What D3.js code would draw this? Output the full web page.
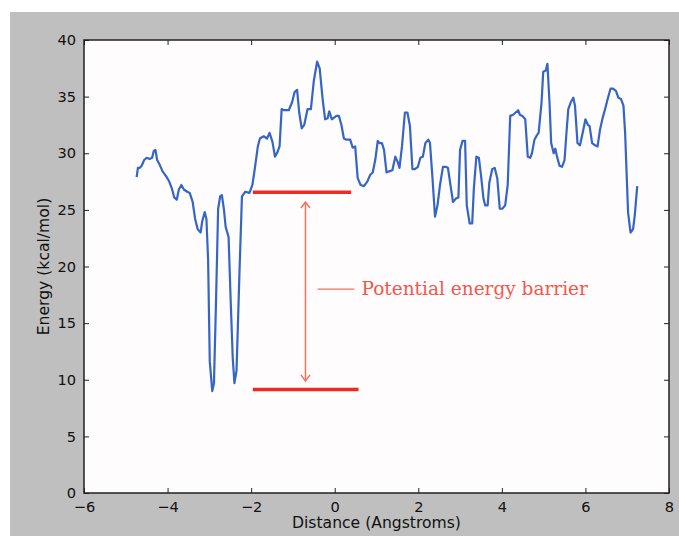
<!DOCTYPE html>
<html>
<head>
<meta charset="utf-8">
<script src="https://cdn.jsdelivr.net/npm/d3@7"></script>
<style>
  body { margin: 0; background: #fff; }
  svg { display: block; }
</style>
</head>
<body>
<div id="chart"></div>
<script>
// distance (Angstroms) and energy (kcal/mol)
const distance = [
  -4.74, -4.71, -4.67, -4.62, -4.56, -4.50, -4.43, -4.37, -4.33, -4.29,
  -4.25, -4.19, -4.12, -4.04, -3.96, -3.89, -3.84, -3.78, -3.73, -3.67,
  -3.61, -3.53, -3.47, -3.40, -3.34, -3.28, -3.21, -3.17, -3.11, -3.07,
  -3.03, -2.99, -2.93, -2.89, -2.84, -2.79, -2.74, -2.70, -2.65, -2.61,
  -2.54, -2.49, -2.44, -2.40, -2.35, -2.28, -2.22, -2.14, -2.04, -1.97,
  -1.91, -1.84, -1.79, -1.70, -1.62, -1.56, -1.49, -1.43, -1.37, -1.32,
  -1.27, -1.21, -1.10, -1.02, -0.96, -0.90, -0.85, -0.79, -0.73, -0.65,
  -0.57, -0.50, -0.42, -0.36, -0.29, -0.23, -0.17, -0.13, -0.07, 0.04,
  0.10, 0.16, 0.22, 0.28, 0.37, 0.43, 0.49, 0.55, 0.62, 0.70,
  0.78, 0.85, 0.91, 0.97, 1.03, 1.07, 1.13, 1.18, 1.24, 1.30,
  1.38, 1.45, 1.51, 1.55, 1.61, 1.68, 1.74, 1.80, 1.86, 1.92,
  1.99, 2.05, 2.11, 2.17, 2.24, 2.28, 2.34, 2.40, 2.46, 2.52,
  2.59, 2.67, 2.71, 2.77, 2.83, 2.90, 2.96, 3.00, 3.06, 3.12,
  3.16, 3.23, 3.29, 3.33, 3.39, 3.45, 3.50, 3.56, 3.60, 3.66,
  3.70, 3.77, 3.83, 3.89, 3.95, 4.01, 4.08, 4.14, 4.20, 4.27,
  4.33, 4.39, 4.43, 4.49, 4.56, 4.62, 4.68, 4.72, 4.78, 4.84,
  4.88, 4.95, 4.99, 5.05, 5.09, 5.14, 5.18, 5.24, 5.28, 5.32,
  5.38, 5.44, 5.50, 5.54, 5.59, 5.65, 5.71, 5.75, 5.81, 5.87,
  5.94, 6.00, 6.06, 6.10, 6.16, 6.23, 6.29, 6.35, 6.41, 6.47,
  6.54, 6.60, 6.66, 6.73, 6.79, 6.85, 6.91, 6.95, 7.02, 7.08,
  7.14, 7.18, 7.24
];
const energy = [
  27.9, 28.7, 28.7, 28.9, 29.4, 29.6, 29.5, 29.6, 30.2, 30.3,
  29.4, 29.0, 28.4, 28.0, 27.5, 26.8, 26.1, 25.9, 26.8, 27.2,
  26.8, 26.6, 26.5, 25.7, 24.2, 23.3, 23.0, 24.0, 24.8, 24.2,
  20.6, 11.6, 9.0, 9.7, 17.0, 25.1, 26.2, 26.3, 25.0, 23.5,
  22.6, 17.0, 11.9, 9.7, 10.8, 19.4, 26.2, 26.6, 26.5, 27.2,
  28.7, 30.6, 31.3, 31.5, 31.3, 31.8, 31.0, 29.7, 30.1, 30.6,
  33.9, 33.8, 33.8, 34.5, 35.4, 35.6, 33.6, 32.2, 32.5, 33.9,
  33.9, 36.4, 38.1, 37.5, 34.8, 33.0, 33.1, 33.7, 33.0, 33.3,
  33.3, 32.5, 31.3, 31.2, 31.2, 30.5, 30.6, 27.8, 27.2, 27.1,
  27.5, 28.1, 28.3, 29.4, 31.1, 30.9, 30.9, 30.3, 28.3, 28.4,
  28.5, 29.7, 29.2, 28.7, 30.6, 33.6, 33.6, 32.4, 28.6, 28.6,
  28.8, 29.6, 29.7, 30.9, 31.2, 30.9, 27.8, 24.4, 25.4, 27.2,
  28.8, 28.8, 28.7, 27.2, 25.7, 26.0, 26.1, 30.3, 31.1, 31.1,
  25.4, 23.8, 23.8, 26.9, 29.7, 29.6, 28.1, 26.0, 25.4, 25.4,
  27.4, 28.6, 28.7, 27.8, 25.1, 25.1, 25.4, 27.2, 33.3, 33.4,
  33.6, 33.8, 33.4, 33.3, 33.0, 29.7, 29.6, 30.0, 31.2, 31.6,
  31.8, 34.5, 37.2, 37.3, 37.9, 34.5, 30.9, 30.0, 30.4, 29.7,
  28.9, 28.8, 29.4, 31.5, 33.9, 34.5, 34.9, 34.2, 30.9, 30.7,
  31.9, 33.0, 32.5, 32.4, 30.9, 30.7, 30.6, 32.1, 33.1, 33.9,
  34.9, 35.7, 35.7, 35.5, 34.9, 34.8, 34.2, 31.8, 24.8, 23.0,
  23.3, 24.5, 27.1
];

// barrier annotation: [x0, x1, level]
const barrierTop = [-1.96, 0.39, 26.55];
const barrierBottom = [-1.96, 0.57, 9.15];
const arrowX = -0.70;
const arrowRange = [25.7, 9.9];
const leader = [-0.41, 0.47, 18.0];
const labelText = "Potential energy barrier";
const labelX = 0.64;

const xTicks = [-6, -4, -2, 0, 2, 4, 6, 8];
const yTicks = [0, 5, 10, 15, 20, 25, 30, 35, 40];

const margin = { top: 40, right: 10, bottom: 43, left: 84 };
const W = 679, H = 536;
const width = W - margin.left - margin.right;   // 585
const height = H - margin.top - margin.bottom;  // 453

const root = d3.select("#chart").append("svg")
    .attr("width", W)
    .attr("height", H);

root.append("rect").attr("width", W).attr("height", H).attr("fill", "#ffffff");
root.append("rect").attr("x", 10).attr("y", 12)
    .attr("width", W - 10).attr("height", H - 12)
    .attr("fill", "#bfbfbf");

const arrowColor = "#f5725e";

const defs = root.append("defs");
["start", "end"].forEach(k => {
    defs.append("marker")
        .attr("id", "head-" + k)
        .attr("viewBox", "-7 -6 14 12")
        .attr("refX", 0).attr("refY", 0)
        .attr("markerWidth", 14).attr("markerHeight", 12)
        .attr("markerUnits", "userSpaceOnUse")
        .attr("orient", "auto-start-reverse")
      .append("path")
        .attr("d", "M-6,-4.5L0,0L-6,4.5")
        .attr("fill", "none")
        .attr("stroke", arrowColor)
        .attr("stroke-width", 1.5);
});

const svg = root.append("g")
    .attr("transform", `translate(${margin.left},${margin.top})`);

const x = d3.scaleLinear().domain([-6, 8]).range([0, width]);
const y = d3.scaleLinear().domain([0, 40]).range([height, 0]);

svg.append("rect")
    .attr("width", width).attr("height", height)
    .attr("fill", "#fefcfc");

// curve
const pts = distance.map((d, i) => [d, energy[i]]);
svg.append("path")
    .datum(pts)
    .attr("fill", "none")
    .attr("stroke", "#3565c5")
    .attr("stroke-width", 2.2)
    .attr("stroke-linejoin", "round")
    .attr("d", d3.line().x(d => x(d[0])).y(d => y(d[1])));

// barrier lines
[barrierTop, barrierBottom].forEach(b => {
    svg.append("line")
        .attr("x1", x(b[0])).attr("x2", x(b[1]))
        .attr("y1", y(b[2])).attr("y2", y(b[2]))
        .attr("stroke", "#ee2a22")
        .attr("stroke-width", 3.5);
});

svg.append("line")
    .attr("x1", x(arrowX)).attr("x2", x(arrowX))
    .attr("y1", y(arrowRange[0])).attr("y2", y(arrowRange[1]))
    .attr("stroke", arrowColor)
    .attr("stroke-width", 1.5)
    .attr("marker-start", "url(#head-start)")
    .attr("marker-end", "url(#head-end)");

svg.append("line")
    .attr("x1", x(leader[0])).attr("x2", x(leader[1]))
    .attr("y1", y(leader[2])).attr("y2", y(leader[2]))
    .attr("stroke", arrowColor)
    .attr("stroke-width", 1.3);

svg.append("text")
    .attr("x", x(labelX))
    .attr("y", y(leader[2]))
    .attr("dy", "0.33em")
    .attr("fill", "#f3574c")
    .style("font-family", "'DejaVu Serif', serif")
    .style("font-size", "18.5px")
    .text(labelText);

// axes: ticks inside, on all four sides
const tickStyle = g => {
    g.select(".domain").remove();
    g.selectAll(".tick line").attr("stroke", "#222");
    g.selectAll(".tick text")
        .attr("fill", "#111")
        .style("font-family", "'DejaVu Sans', sans-serif")
        .style("font-size", "14.6px");
};

svg.append("g")
    .attr("transform", `translate(0,${height})`)
    .call(d3.axisBottom(x).tickValues(xTicks).tickFormat(d => d < 0 ? "\u2212" + (-d) : d)
        .tickSizeInner(-5).tickPadding(9))
    .call(tickStyle);

svg.append("g")
    .call(d3.axisTop(x).tickValues(xTicks).tickSizeInner(-5).tickFormat(""))
    .call(tickStyle);

svg.append("g")
    .call(d3.axisLeft(y).tickValues(yTicks).tickSizeInner(-5).tickPadding(8))
    .call(tickStyle);

svg.append("g")
    .attr("transform", `translate(${width},0)`)
    .call(d3.axisRight(y).tickValues(yTicks).tickSizeInner(-5).tickFormat(""))
    .call(tickStyle);

// frame
svg.append("rect")
    .attr("width", width).attr("height", height)
    .attr("fill", "none")
    .attr("stroke", "#222")
    .attr("stroke-width", 1.5);

svg.append("text")
    .attr("x", width / 2)
    .attr("y", height + 35)
    .attr("text-anchor", "middle")
    .attr("fill", "#111")
    .style("font-family", "'DejaVu Sans', sans-serif")
    .style("font-size", "15.6px")
    .text("Distance (Angstroms)");

svg.append("text")
    .attr("transform", "rotate(-90)")
    .attr("x", -height / 2)
    .attr("y", -35)
    .attr("text-anchor", "middle")
    .attr("fill", "#111")
    .style("font-family", "'DejaVu Sans', sans-serif")
    .style("font-size", "15.6px")
    .text("Energy (kcal/mol)");
</script>
</body>
</html>
